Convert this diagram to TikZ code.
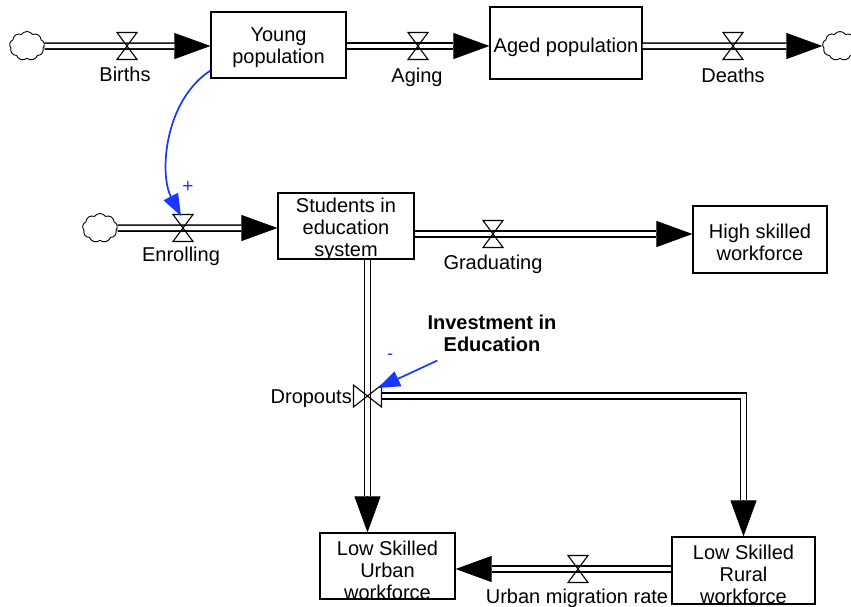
\documentclass[tikz,border=0pt]{standalone}
\usepackage{fontspec}
\setmainfont{Liberation Sans}
\usetikzlibrary{arrows.meta,shapes.symbols,calc}
\definecolor{linkblue}{RGB}{25,55,255}
\tikzset{
  stock/.style={draw=black, line width=1.2pt, rectangle, inner sep=0pt},
  txt/.style={font=\fontsize{20}{22}\selectfont, align=center, inner sep=0pt},
  source/.style={cloud, cloud puffs=9, cloud puff arc=110, aspect=1.2, draw, line width=0.9pt,
    minimum width=35pt, minimum height=29pt, inner sep=0pt},
  pipe/.style={line width=1.6pt, double=white, double distance=4.3pt, shorten >=36pt},
  pipetip/.style={line width=0.8pt, -{Triangle[length=36pt,width=26pt]}},
  link/.style={draw=linkblue, line width=1.7pt, -{Triangle[length=22pt,width=16pt]}},
  valveh/.pic={\draw[line width=1.1pt] (-10,-13.5) -- (10,-13.5) -- (-10,13.5) -- (10,13.5) -- cycle;},
  valvev/.pic={\draw[line width=1.1pt] (-14,-11) -- (-14,11) -- (14,-11) -- (14,11) -- cycle;}
}
\begin{document}
\begin{tikzpicture}[x=1pt, y=-1pt]
\useasboundingbox (0,0) rectangle (851,606);

% stocks
\node[stock, minimum width=135pt, minimum height=66pt] (young) at (278.5,45) {};
\node[txt] (youngt) at (278.5,48) {Young\\population};
\node[stock, minimum width=152pt, minimum height=72pt] (aged) at (566,43) {};
\node[txt, anchor=base] (agedt) at (566,52) {Aged population};
\node[stock, minimum width=136pt, minimum height=66pt] (students) at (346,226) {};
\node[txt] (studentst) at (346,229) {Students in\\education\\system};
\node[stock, minimum width=134pt, minimum height=67pt] (high) at (760,239.5) {};
\node[txt] (hight) at (760,242) {High skilled\\workforce};
\node[stock, minimum width=135pt, minimum height=66pt] (urban) at (387.5,566) {};
\node[txt] (urbant) at (387.5,570) {Low Skilled\\Urban\\workforce};
\node[stock, minimum width=143pt, minimum height=67pt] (rural) at (743.5,570.5) {};
\node[txt] (ruralt) at (743.5,574) {Low Skilled\\Rural\\workforce};

% clouds
\node[source] (c1) at (27,46) {};
\node[source] (c2) at (840,46) {};
\node[source] (c3) at (100,228) {};

% valve positions
\coordinate (vb) at (127,46);
\coordinate (va) at (418,46);
\coordinate (vd) at (733,46);
\coordinate (ve) at (183,228);
\coordinate (vg) at (493,234);
\coordinate (vdr) at (367.5,396);
\coordinate (vm) at (578,569);

% flows
\draw[pipetip] (c1.east) -- (young.west |- c1);
\draw[pipe] (c1.east) -- (young.west |- c1);
\draw[pipetip] (young.east |- va) -- (aged.west |- va);
\draw[pipe] (young.east |- va) -- (aged.west |- va);
\draw[pipetip] (aged.east |- vd) -- (c2.west);
\draw[pipe] (aged.east |- vd) -- (c2.west);
\draw[pipetip] (c3.east) -- (students.west |- c3);
\draw[pipe] (c3.east) -- (students.west |- c3);
\draw[pipetip] (students.east |- vg) -- (high.west |- vg);
\draw[pipe] (students.east |- vg) -- (high.west |- vg);
\draw[pipetip] (students.south -| vdr) -- (urban.north -| vdr);
\draw[pipe] (students.south -| vdr) -- (urban.north -| vdr);
\draw[pipetip] ([xshift=14pt]vdr) -| (rural.north);
\draw[pipe] ([xshift=14pt]vdr) -| (rural.north);
\draw[pipetip] (rural.west |- vm) -- (urban.east |- vm);
\draw[pipe] (rural.west |- vm) -- (urban.east |- vm);

% valves
\pic at (vb) {valveh};
\pic at (va) {valveh};
\pic at (vd) {valveh};
\pic at (ve) {valveh};
\pic at (vg) {valveh};
\pic at (vm) {valveh};
\pic at (vdr) {valvev};

% flow labels
\node[txt, anchor=base] (births) at (125,81) {Births};
\node[txt, anchor=base] (aging) at (417,82) {Aging};
\node[txt, anchor=base] (deaths) at (733,82) {Deaths};
\node[txt, anchor=base] (enrolling) at (181,261) {Enrolling};
\node[txt, anchor=base] (graduating) at (493,269) {Graduating};
\node[txt, anchor=base east] (dropouts) at (352,403) {Dropouts};
\node[txt, anchor=base] (migration) at (577,603) {Urban migration rate};

% auxiliary
\node[txt, font=\fontsize{20}{22}\selectfont\bfseries] (inv) at (492,333) {Investment in\\Education};

% links
\draw[link] ([yshift=8pt]young.south west) .. controls +(-46,30) and +(-22,-42) .. ([shift={(-2,-12)}]ve);
\node[text=linkblue, font=\fontsize{19}{19}\selectfont, inner sep=0pt] (plus) at (188,187) {+};
\draw[link] ([shift={(10,9)}]inv.south west) -- ([shift={(10.5,-8)}]vdr);
\node[text=linkblue, font=\fontsize{18}{18}\selectfont, inner sep=0pt] (minus) at (390,357) {-};
\end{tikzpicture}
\end{document}
